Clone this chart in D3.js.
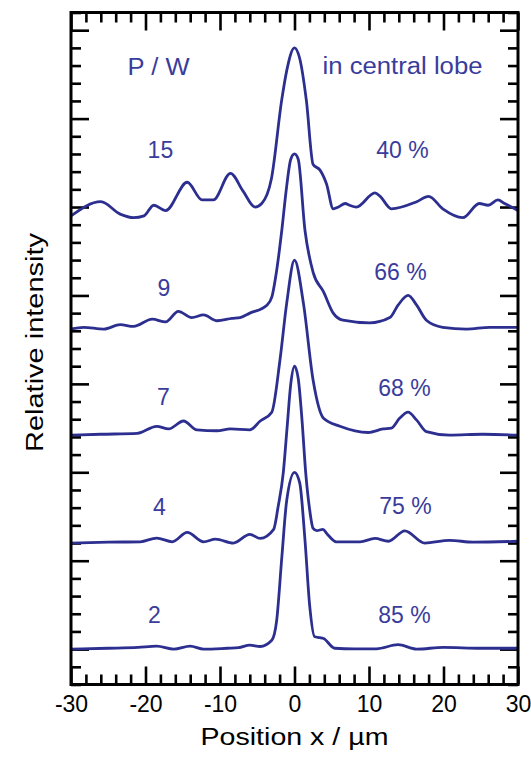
<!DOCTYPE html>
<html>
<head>
<meta charset="utf-8">
<script src="https://cdn.jsdelivr.net/npm/d3@7"></script>
<style>
  html, body { margin: 0; padding: 0; background: #fff; }
  svg { display: block; }
  text { font-family: "Liberation Sans", Arial, Helvetica, sans-serif; }
</style>
</head>
<body>
<svg id="chart" width="531" height="759"></svg>
<script>
// ---------------- DATA ----------------
const powers = ["15", "9", "7", "4", "2"];
const centralLobe = ["40 %", "66 %", "68 %", "75 %", "85 %"];
const offsets = [24, 18, 12, 6, 0];

const x15 = [-30, -26.0, -23.4, -21.6, -20.2, -18.9, -17.3, -14.4, -12.4, -10.9, -8.6, -6.9, -5.3, -4.4, -3.1, -1.7, -1.05, 0, 0.7, 1.6, 2.5, 3.4, 4.3, 5.2, 5.9, 6.8, 7.4, 8.3, 10.8, 11.5, 13.0, 16.4, 18.0, 19.9, 22.6, 24.8, 26.0, 27.3, 28.2, 30];
const y15 = [0.5, 1.3, 0.6, 0.4, 0.5, 1.1, 0.8, 2.4, 1.4, 1.4, 2.9, 1.9, 1.0, 1.2, 2.6, 7.1, 8.7, 10.0, 9.4, 7.0, 3.4, 3.1, 2.3, 0.9, 1.0, 1.2, 1.1, 1.0, 1.8, 1.6, 0.9, 1.3, 1.6, 0.9, 0.4, 1.2, 1.1, 1.4, 1.2, 0.8];

const x9 = [-30, -28.3, -25.6, -23.4, -21.6, -19.1, -17.3, -15.6, -13.8, -12.2, -10.4, -8.4, -7.3, -6.0, -3.7, -3.05, -2.4, -1.7, -1.1, -0.5, 0, 0.5, 1.4, 2.5, 3.9, 5.2, 6.5, 10.1, 12.8, 13.9, 15.25, 16.4, 17.7, 19.9, 23.1, 26.2, 30];
const y9 = [0.1, 0.2, 0.1, 0.35, 0.25, 0.66, 0.5, 1.1, 0.75, 0.9, 0.57, 0.7, 0.75, 1.0, 1.45, 1.9, 3.4, 5.7, 8.0, 9.7, 10.0, 9.7, 5.7, 3.3, 2.2, 1.0, 0.6, 0.45, 0.75, 1.45, 2.0, 1.45, 0.6, 0.2, 0.1, 0.2, 0.2];

const x7 = [-30, -26.0, -21.1, -18.5, -16.9, -14.9, -13.1, -10.4, -8.6, -6.0, -4.6, -3.05, -1.95, -1.05, 0, 1.2, 2.5, 3.9, 6.1, 9.9, 11.9, 13.0, 14.1, 15.25, 16.4, 17.7, 20.8, 25.3, 30];
const y7 = [0.1, 0.15, 0.2, 0.6, 0.45, 0.9, 0.4, 0.35, 0.45, 0.4, 0.9, 1.4, 4.35, 7.55, 10.0, 7.55, 3.2, 1.05, 0.6, 0.25, 0.45, 0.5, 1.05, 1.4, 0.95, 0.3, 0.1, 0.15, 0.1];

const x4 = [-30, -25, -20.7, -18.5, -16.4, -14.4, -12.2, -10.6, -8.2, -6.0, -4.6, -2.8, -2.2, -1.5, -1.0, -0.5, 0, 0.5, 1.0, 1.5, 2.0, 2.5, 3.0, 3.8, 4.4, 5.6, 8.8, 10.8, 12.6, 14.8, 17.5, 20.8, 24, 30];
const y4 = [0, 0.05, 0.07, 0.28, 0.07, 0.6, 0.07, 0.22, 0, 0.49, 0.26, 0.77, 2.05, 4.0, 6.5, 9.0, 10.0, 9.3, 7.0, 4.0, 2.0, 0.83, 0.7, 0.77, 0.5, 0.07, 0.07, 0.26, 0.1, 0.69, 0, 0.15, 0.05, 0.1];

const x2 = [-30, -25, -21, -18.5, -16.2, -14.0, -12.2, -9, -7.5, -6.0, -4.6, -3.05, -2.4, -1.7, -1.05, 0, 0.7, 1.4, 2.05, 2.7, 3.4, 3.9, 5.4, 8, 11, 13.9, 16.4, 20, 25, 30];
const y2 = [0, 0.05, 0.1, 0.17, 0, 0.17, 0, 0.05, 0.08, 0.23, 0.15, 0.5, 1.6, 5.2, 8.4, 10.0, 9.4, 6.2, 2.4, 0.7, 0.65, 0.6, 0.05, 0.02, 0.02, 0.25, 0.0, 0.1, 0.05, 0.05];

const xTickLabels = ["-30", "-20", "-10", "0", "10", "20", "30"];

const seriesX = [x15, x9, x7, x4, x2];
const seriesY = [y15, y9, y7, y4, y2];

// ---------------- LAYOUT ----------------
const svg = d3.select("#chart");
const mLeft = 71, mRight = 518, mTop = 12.5, mBottom = 684.5;
const lineColor = "#2c2f8f";
const textColor = "#3a3c9c";

const x = d3.scaleLinear().domain([-30, 30]).range([mLeft, mRight]);
const y = d3.scaleLinear().domain([-2, 36]).range([mBottom, mTop]);

const majorX = d3.range(-30, 31, 10);
const minorX = d3.range(-30, 31, 2).filter(v => v % 10 !== 0);
const majorY = d3.range(0, 36, 5);
const minorY = d3.range(-2, 37, 1).filter(v => v % 5 !== 0);

const majorLen = 18, minorLen = 10;

function styleAxis(g) {
  g.select(".domain").remove();
  g.selectAll(".tick line").attr("stroke", "#000").attr("stroke-width", 2.6);
}

// Bottom axis (ticks inward)
svg.append("g").attr("transform", `translate(0,${mBottom})`)
  .call(d3.axisBottom(x).tickValues(minorX).tickSize(-minorLen).tickFormat(""))
  .call(styleAxis);
const bx = svg.append("g").attr("transform", `translate(0,${mBottom})`)
  .call(d3.axisBottom(x).tickValues(majorX).tickSize(-majorLen).tickPadding(0)
    .tickFormat((d, i) => xTickLabels[i]))
  .call(styleAxis);
bx.selectAll(".tick text")
  .attr("y", 27).attr("dy", 0)
  .attr("font-size", 23).attr("fill", "#000")
  .attr("font-family", "Liberation Sans, Arial, sans-serif");

// Top axis
svg.append("g").attr("transform", `translate(0,${mTop})`)
  .call(d3.axisTop(x).tickValues(minorX).tickSize(-minorLen).tickFormat(""))
  .call(styleAxis);
svg.append("g").attr("transform", `translate(0,${mTop})`)
  .call(d3.axisTop(x).tickValues(majorX).tickSize(-majorLen).tickFormat(""))
  .call(styleAxis);

// Left axis
svg.append("g").attr("transform", `translate(${mLeft},0)`)
  .call(d3.axisLeft(y).tickValues(minorY).tickSize(-minorLen).tickFormat(""))
  .call(styleAxis);
svg.append("g").attr("transform", `translate(${mLeft},0)`)
  .call(d3.axisLeft(y).tickValues(majorY).tickSize(-majorLen).tickFormat(""))
  .call(styleAxis);

// Right axis
svg.append("g").attr("transform", `translate(${mRight},0)`)
  .call(d3.axisRight(y).tickValues(minorY).tickSize(-minorLen).tickFormat(""))
  .call(styleAxis);
svg.append("g").attr("transform", `translate(${mRight},0)`)
  .call(d3.axisRight(y).tickValues(majorY).tickSize(-majorLen).tickFormat(""))
  .call(styleAxis);

// Curves
const line = d3.line()
  .x(d => x(d[0]))
  .y(d => y(d[1]))
  .curve(d3.curveMonotoneX);

svg.append("defs").append("clipPath").attr("id", "plotclip")
  .append("rect").attr("x", mLeft).attr("y", mTop).attr("width", mRight - mLeft).attr("height", mBottom - mTop);

const curves = svg.append("g").attr("clip-path", "url(#plotclip)");
seriesX.forEach((xs, i) => {
  const pts = xs.map((xv, j) => [xv, seriesY[i][j] + offsets[i]]);
  curves.append("path")
    .attr("d", line(pts))
    .attr("fill", "none")
    .attr("stroke", lineColor)
    .attr("stroke-width", 2.8)
    .attr("stroke-linejoin", "round")
    .attr("stroke-linecap", "round");
});

// Frame
svg.append("rect")
  .attr("x", mLeft).attr("y", mTop)
  .attr("width", mRight - mLeft).attr("height", mBottom - mTop)
  .attr("fill", "none").attr("stroke", "#000").attr("stroke-width", 3);

// Labels per curve
const powerX = -18.0, lobeX = 14.5;
const powerShift = [0, 3.5, 3, -1, -6];
const lobeShift = [0, -2, 2, 3, 2];
const powerDy = [3.75, 1.97, 1.8, 1.58, 1.49];
const lobeDy = [3.75, 2.9, 2.3, 1.64, 1.47];
powers.forEach((p, i) => {
  svg.append("text")
    .attr("x", x(powerX) + powerShift[i])
    .attr("y", y(offsets[i] + powerDy[i]))
    .attr("text-anchor", "middle")
    .attr("font-size", 23)
    .attr("fill", textColor)
    .text(p);
  svg.append("text")
    .attr("x", x(lobeX) + lobeShift[i])
    .attr("y", y(offsets[i] + lobeDy[i]))
    .attr("text-anchor", "middle")
    .attr("font-size", 23)
    .attr("fill", textColor)
    .text(centralLobe[i]);
});

// Header labels
svg.append("text")
  .attr("x", 127.5).attr("y", 74.5)
  .attr("font-size", 23).attr("fill", textColor)
  .attr("textLength", 62).attr("lengthAdjust", "spacingAndGlyphs")
  .text("P / W");
svg.append("text")
  .attr("x", 322.5).attr("y", 74)
  .attr("font-size", 23).attr("fill", textColor)
  .attr("textLength", 160).attr("lengthAdjust", "spacingAndGlyphs")
  .text("in central lobe");

// Axis titles
svg.append("text")
  .attr("x", 200.5).attr("y", 745)
  .attr("font-size", 23).attr("fill", "#000")
  .attr("textLength", 188).attr("lengthAdjust", "spacingAndGlyphs")
  .text("Position x / µm");

svg.append("text")
  .attr("transform", "translate(43,452) rotate(-90)")
  .attr("x", 0).attr("y", 0)
  .attr("font-size", 23).attr("fill", "#000")
  .attr("textLength", 219).attr("lengthAdjust", "spacingAndGlyphs")
  .text("Relative intensity");
</script>
</body>
</html>
